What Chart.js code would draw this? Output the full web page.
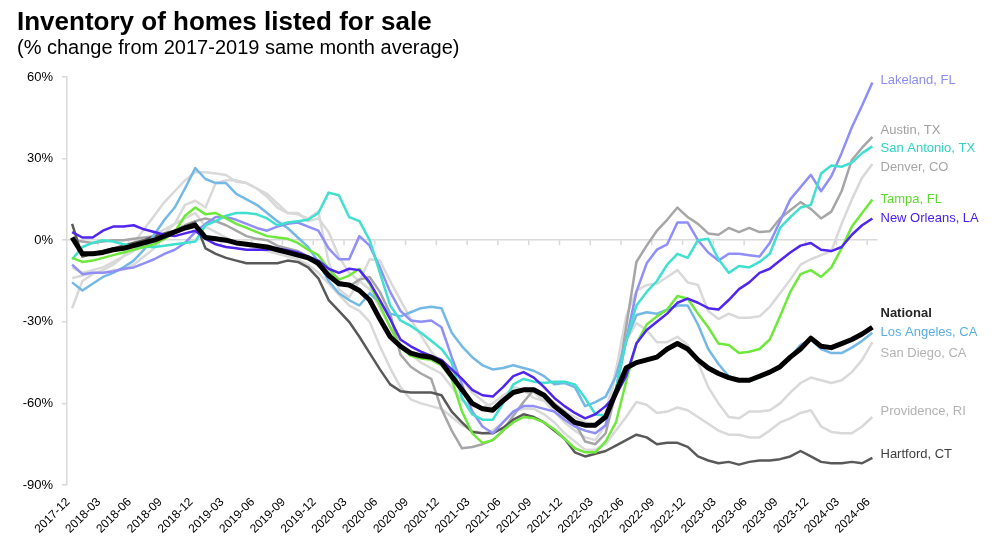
<!DOCTYPE html>
<html>
<head>
<meta charset="utf-8">
<title>Inventory of homes listed for sale</title>
<script src="https://cdn.jsdelivr.net/npm/chart.js@4.4.1/dist/chart.umd.min.js"></script>
<style>
  html, body { margin: 0; padding: 0; background: #fff; }
  #wrap { position: relative; width: 994px; height: 560px; font-family: "Liberation Sans", Arial, sans-serif; }
  #myChart { position: absolute; left: 0; top: 0; }
  #title { position: absolute; left: 17px; top: 6px; font-size: 26px; font-weight: bold; color: #000; white-space: nowrap; }
  #sub { position: absolute; left: 17px; top: 36px; font-size: 20px; color: #000; white-space: nowrap; }
</style>
</head>
<body>
<div id="wrap">
  <canvas id="myChart" width="994" height="560"></canvas>
  <div id="title">Inventory of homes listed for sale</div>
  <div id="sub">(% change from 2017-2019 same month average)</div>
</div>
<script>
// months 2017-12 .. 2024-06
var months = [];
for (var y = 2017; y <= 2024; y++) {
    for (var m = 1; m <= 12; m++) {
        if ((y === 2017 && m < 12) || (y === 2024 && m > 6)) continue;
        months.push(y + '-' + (m < 10 ? '0' + m : m));
    }
}

var yTicks = [60, 30, 0, -30, -60, -90];

var national = [1, -5, -5, -4.5, -3.5, -3, -2, -1, 0, 1.5, 3, 4.5,
    5.5, 1, 0.5, 0, -1, -1.5, -2, -2.5, -3.5, -4.5, -5.5, -6.5,
    -8.5, -13, -16, -16.5, -18.5, -22, -29, -35.5, -39, -41.5, -42.5, -43,
    -45, -50, -55, -60, -62, -62.5, -59, -56, -55, -55, -57, -61,
    -64, -67, -68, -68, -65, -56, -47, -45, -44, -43, -40, -38,
    -40, -44, -47, -49, -50.5, -51.5, -51.5, -50, -48.5, -46.5, -43, -40,
    -36, -39, -39.5, -38, -36.5, -34.5, -32];

var lakeland = [-9, -12.5, -12, -12, -11.5, -10.5, -10, -8.5, -7, -5, -3.5, -1,
    3, 6, 8.5, 8.5, 7.5, 6, 4.5, 3.5, 5, 6, 6.5, 5,
    3.5, -3, -7, -7, 1.5, -2, -10, -19, -26, -29.5, -30, -29.5,
    -32, -43, -53, -63, -68.5, -71, -67, -63, -61, -61, -62, -63,
    -66, -68.5, -70, -71, -68, -55, -37, -19, -8.5, -3.5, -1.5, 6.5,
    6.5, 0, -4.5, -7.5, -5, -5, -5.5, -6, -1, 7, 15, 19.5,
    24, 18, 23.5, 32, 41.5, 49.5, 58];

var austin = [0, -0.5, -1, -0.5, 0, 0, 0.5, 1, 1.5, 2, 3.5, 5.5,
    7, 8, 7, 5.5, 3.5, 1.5, 0.5, 0, -2, -3, -4, -6,
    -9.5, -12, -15, -17, -14.5, -13.5, -19, -27, -42, -46.5, -49, -51,
    -62, -70, -76.5, -76, -75, -73.5, -70, -64.5, -59.5, -55, -56.5, -60,
    -63, -67, -74, -75, -71, -56, -32, -8, -2, 3.5, 7.5, 12,
    8.5, 6, 2.5, 2, 4.5, 3, 4.5, 3, 3.3, 8, 11, 14,
    11.5, 8, 10.5, 18, 29.5, 34, 38];

var sanAntonio = [-7, -2.5, -1, 0, -0.5, -1.5, -2, -2.5, -2.5, -2, -1.5, -1,
    -0.5, 5.5, 7, 9, 10, 10, 9.5, 8, 5.5, 6.5, 7, 7.5,
    10, 17.5, 16.5, 8.5, 7, 0, -12, -24, -29.5, -31.5, -34, -37,
    -40, -45, -58, -64, -66, -66, -60, -53, -51, -52, -52.5, -52,
    -52, -53, -58, -64, -64.5, -55, -37, -24, -19, -15, -9, -5,
    -6.5, 0, 0.5, -7, -12, -9.5, -10, -8, -5, 4.5, 8.5, 12,
    13, 24.5, 27.5, 27, 28.5, 32, 34.5];

var denver = [-14, -13, -12, -12, -11, -11, -9, -6, -3, 2.5, 6, 13,
    14.5, 12, 21, 22, 22, 21, 19, 16, 12, 10, 10, 7,
    8, 3, -6, -12, -15, -18, -25, -32, -38, -42, -45, -47,
    -49, -54, -59, -61, -61.5, -60, -57, -55, -55, -56, -59, -63,
    -67, -70, -72.5, -73.5, -68, -48, -28, -18.5, -16.5, -16, -13.5, -11,
    -15.5, -16.5, -26, -29, -27, -28.5, -28.5, -28, -24.5, -19.5, -14.5, -9,
    -7, -5.5, -4, 6, 15, 23, 28];

var tampa = [-6.5, -8, -7.5, -6.5, -5.5, -4.5, -3.5, -2.5, -1.5, 0.5, 3, 9,
    12, 9.5, 10, 8, 6, 4.5, 3, 1.5, 1, 0.5, -1, -3.5,
    -5.5, -10.5, -14.5, -13, -10.5, -16, -24, -32, -39.5, -42.5, -43.5, -44,
    -46, -51, -63, -71, -74.5, -73.5, -70, -67, -65, -65.5, -67, -69.5,
    -73, -76.5, -78, -78, -74, -67, -52, -38, -31, -28, -25.5, -20.5,
    -21.5, -27, -32, -38, -38.5, -41.5, -41, -40, -36.5, -28, -19, -12.5,
    -11, -13.5, -10, -3, 5, 10, 15];

var newOrleans = [3, 1, 1, 3.5, 5, 5, 5.5, 4, 3, 2, 1.5, 2.5,
    3.5, 0.5, -1.5, -2.5, -3, -3.5, -3.5, -3.5, -3, -3.7, -4.5, -6,
    -7.5, -10.5, -12, -10.5, -11, -15.5, -22, -29, -36.5, -39, -41, -42.5,
    -44, -47.5, -51, -55, -57, -57.5, -54, -50, -48.5, -50.5, -54, -58,
    -61, -63.5, -65.5, -64, -61, -57, -50, -38, -33, -30, -27, -23,
    -21.5, -23, -25, -25.5, -22, -18, -15.5, -12, -10.5, -7.5, -4.5, -2,
    -1, -3.5, -4, -2.5, 2, 5.5, 8];

var losAngeles = [-15.5, -18.5, -16, -13.5, -12, -10, -7.5, -3.5, 2, 7.5, 12, 19,
    26.5, 22.5, 21, 21, 17, 15, 13, 10, 7, 4.5, 1, -2.5,
    -8, -15, -19.5, -22, -24, -19.5, -23, -27, -28, -26.5, -25, -24.5,
    -25, -34, -39, -43, -46, -47.5, -47, -46, -47, -48, -50, -53,
    -52.5, -54, -61, -59.5, -57.5, -50, -37, -27.5, -26.5, -27, -25.5, -24,
    -24, -31, -40, -45.5, -50, -51.5, -51, -50.5, -48.5, -47, -43, -38.5,
    -36.5, -40, -41.5, -41.5, -39.5, -37, -34];

var sanDiego = [-25, -15, -12.5, -11, -9, -6, -1, 4, 9, 14, 18, 22,
    25, 25, 24.5, 24, 21.5, 21, 19, 17, 13.5, 10, 9.5, 8,
    10.5, -8, -18, -21, -15, -7, -7.5, -15, -22, -29, -35, -41,
    -45, -48, -51.5, -56, -59, -62, -58, -54, -55, -58, -59, -60.5,
    -63, -65, -67, -68.5, -63.5, -48, -37, -30.5, -33, -37.5, -37.5, -35.5,
    -38.5, -45, -54, -60, -65, -65.5, -63, -63, -62.5, -60, -56, -52.5,
    -50.5, -51.5, -52.5, -51.5, -48.5, -44, -37.5];

var providence = [-10, -12, -11, -10, -8, -6, -4, -1, 2, 4, 6, 8,
    10, 5, 3, 1, -1, -2, -3, -4, -5, -6, -7, -9,
    -12, -16, -20, -24, -26, -30, -39, -47, -54, -58.5, -60, -61,
    -62, -65, -68, -70, -71, -70, -67, -63, -62, -62, -64, -67,
    -71, -74, -77, -77, -75, -70, -65, -59.5, -60.5, -63.5, -63, -61.5,
    -62.5, -65, -67.5, -70, -71.5, -71.5, -72.5, -72.5, -70, -67, -65.5, -63.5,
    -62.5, -68.5, -70.5, -71, -71, -68.5, -65];

var hartford = [6, -6, -5, -4, -3, -2, -1, 0, 1.5, 2.5, 3.5, 5,
    6.5, -3, -5, -6.5, -7.5, -8.5, -8.5, -8.5, -8.5, -7.5, -8, -10,
    -14, -22, -26, -30, -35.5, -41.5, -47.5, -53, -55.5, -56, -56, -56,
    -57, -63, -67, -70.5, -71, -71, -69, -66, -64, -65, -67, -70,
    -73, -78, -79.5, -78.5, -77.5, -75.5, -73.5, -71.5, -72.5, -75, -74.5, -74.5,
    -76, -79.5, -81, -82, -81.5, -82.5, -81.5, -81, -81, -80.5, -79.5, -77.5,
    -79.5, -81.5, -82, -82, -81.5, -82, -80];

var fontFamily = '"Liberation Sans", Arial, sans-serif';

function line(name, data, color, width, labelColor, shift, bold) {
    return {
        label: name,
        data: data,
        borderColor: color,
        borderWidth: width,
        pointRadius: 0,
        tension: 0,
        fill: false,
        borderJoinStyle: 'round',
        labelColor: labelColor,
        labelShift: shift,
        labelBold: bold
    };
}

// right-hand series names
var endLabels = {
    id: 'endLabels',
    afterDatasetsDraw: function (chart) {
        var c = chart.ctx;
        chart.data.datasets.forEach(function (ds, i) {
            var meta = chart.getDatasetMeta(i);
            var pt = meta.data[meta.data.length - 1];
            c.save();
            c.font = (ds.labelBold ? 'bold ' : '') + '13px ' + fontFamily;
            c.fillStyle = ds.labelColor;
            c.textBaseline = 'middle';
            c.textAlign = 'left';
            c.fillText(ds.label, chart.chartArea.right + 3, pt.y + ds.labelShift);
            c.restore();
        });
    }
};

// small ticks hanging from the zero line
var zeroTicks = {
    id: 'zeroTicks',
    beforeDatasetsDraw: function (chart) {
        var xs = chart.scales.x, ys = chart.scales.y, c = chart.ctx;
        var y0 = ys.getPixelForValue(0);
        var half = (xs.getPixelForValue(1) - xs.getPixelForValue(0)) / 2;
        c.save();
        c.strokeStyle = '#d9d9d9';
        c.lineWidth = 1.5;
        for (var i = 3; i < months.length; i += 3) {
            var x = xs.getPixelForValue(i) - half;
            c.beginPath();
            c.moveTo(x, y0);
            c.lineTo(x, y0 + 5);
            c.stroke();
        }
        c.restore();
    }
};

var ctx = document.getElementById('myChart').getContext('2d');
var chart = new Chart(ctx, {
    type: 'line',
    data: {
        labels: months,
        datasets: [
            line('National', national, '#000000', 5, '#262626', -14, true),
            line('New Orleans, LA', newOrleans, '#5025f0', 2.5, '#4a1ff0', 0),
            line('Tampa, FL', tampa, '#6fe83c', 2.5, '#5ed82c', 0),
            line('San Antonio, TX', sanAntonio, '#40e0d0', 2.5, '#2fd3c4', 2),
            line('Lakeland, FL', lakeland, '#8f8ff7', 2.5, '#8c8cf2', -2),
            line('Los Angeles, CA', losAngeles, '#74b9e6', 2.5, '#5aaee2', 0),
            line('Hartford, CT', hartford, '#595959', 2.5, '#404040', -3),
            line('Austin, TX', austin, '#a6a6a6', 2.5, '#a0a0a0', -6.5),
            line('Denver, CO', denver, '#d9d9d9', 2.5, '#a6a6a6', 3),
            line('San Diego, CA', sanDiego, '#d9d9d9', 2.5, '#b3b3b3', 11),
            line('Providence, RI', providence, '#d9d9d9', 2.5, '#b3b3b3', -6)
        ]
    },
    options: {
        responsive: false,
        animation: false,
        layout: { padding: { left: 0, right: 116.5, top: 77, bottom: 0 } },
        plugins: {
            legend: { display: false },
            tooltip: { enabled: false }
        },
        scales: {
            x: {
                type: 'category',
                offset: true,
                grid: { display: false },
                border: { display: false },
                ticks: {
                    autoSkip: false,
                    maxRotation: 45,
                    minRotation: 45,
                    padding: 2,
                    labelOffset: -4,
                    color: '#000',
                    font: { family: fontFamily, size: 12 },
                    callback: function (v, i) { return i % 3 === 0 ? months[i] : null; }
                },
                afterFit: function (s) { s.height = 75; }
            },
            y: {
                min: -90,
                max: 60,
                afterBuildTicks: function (s) {
                    s.ticks = yTicks.map(function (v) { return { value: v }; });
                },
                grid: {
                    color: function (c) { return c.tick && c.tick.value === 0 ? '#d9d9d9' : 'rgba(0,0,0,0)'; },
                    tickColor: '#d9d9d9',
                    lineWidth: 1.5,
                    tickLength: 5
                },
                border: { display: true, color: '#d9d9d9', width: 1.5 },
                ticks: {
                    padding: 9,
                    color: '#000',
                    font: { family: fontFamily, size: 13 },
                    callback: function (v) { return v + '%'; }
                },
                afterFit: function (s) { s.width = 67; }
            }
        }
    },
    plugins: [zeroTicks, endLabels]
});
</script>
</body>
</html>
